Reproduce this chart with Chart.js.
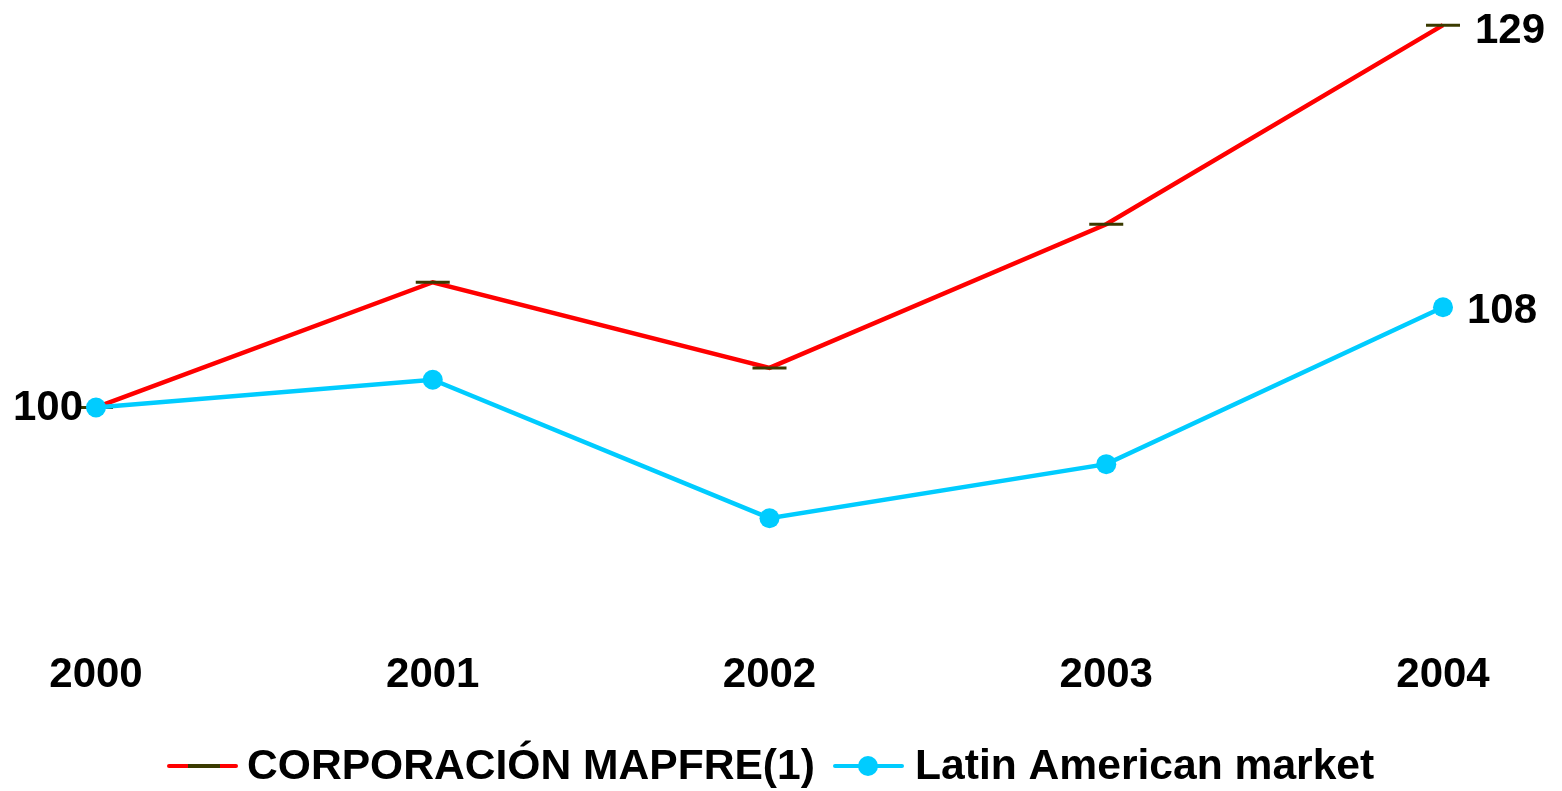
<!DOCTYPE html>
<html>
<head>
<meta charset="utf-8">
<script src="https://cdn.jsdelivr.net/npm/chart.js@4.4.0/dist/chart.umd.min.js"></script>
<style>
  html, body { margin: 0; padding: 0; background: #fff; }
  #wrap { width: 1562px; height: 791px; position: relative; }
</style>
</head>
<body>
<div id="wrap"><canvas id="chart" width="1562" height="791"></canvas></div>
<script>
const years = ["2000", "2001", "2002", "2003", "2004"];
const mapfreValues = [100, 109.5, 103, 113.9, 129];
const latamValues = [100, 102.1, 91.6, 95.7, 107.6];
const seriesNames = ["CORPORACIÓN MAPFRE(1)", "Latin American market"];

const FONT = "'Liberation Sans', Arial, sans-serif";

// end labels: first point of first series, last point of each series
const endLabels = {
  id: "endLabels",
  afterDatasetsDraw(chart) {
    const ctx = chart.ctx;
    const x = chart.scales.x, y = chart.scales.y;
    ctx.save();
    ctx.font = "bold 42px " + FONT;
    ctx.fillStyle = "#000";
    ctx.textBaseline = "middle";
    ctx.textAlign = "right";
    ctx.fillText(String(Math.round(mapfreValues[0])), x.getPixelForValue(0) - 13, y.getPixelForValue(mapfreValues[0]) + 1);
    ctx.textAlign = "left";
    const last = years.length - 1;
    ctx.fillText(String(Math.round(mapfreValues[last])), x.getPixelForValue(last) + 32, y.getPixelForValue(mapfreValues[last]) + 6);
    ctx.fillText(String(Math.round(latamValues[last])), x.getPixelForValue(last) + 24, y.getPixelForValue(latamValues[last]) + 4);
    ctx.restore();
  }
};

// legend drawn by hand: line with its marker on top
const bottomLegend = {
  id: "bottomLegend",
  afterDraw(chart) {
    const ctx = chart.ctx;
    const cy = 766;
    ctx.save();
    ctx.font = "bold 42.6px " + FONT;
    ctx.textBaseline = "middle";
    ctx.fillStyle = "#000";
    ctx.lineCap = "round";

    // red
    ctx.strokeStyle = "#ff0000";
    ctx.lineWidth = 4;
    ctx.beginPath(); ctx.moveTo(169, cy); ctx.lineTo(236, cy); ctx.stroke();
    ctx.strokeStyle = "#3a3a00";
    ctx.lineCap = "butt";
    ctx.lineWidth = 4;
    ctx.beginPath(); ctx.moveTo(188, cy); ctx.lineTo(220, cy); ctx.stroke();
    ctx.fillText(seriesNames[0], 247, cy + 1);

    // cyan
    ctx.lineCap = "round";
    ctx.strokeStyle = "#00ccff";
    ctx.lineWidth = 4;
    ctx.beginPath(); ctx.moveTo(835, cy); ctx.lineTo(902, cy); ctx.stroke();
    ctx.fillStyle = "#00ccff";
    ctx.beginPath(); ctx.arc(868, cy, 10, 0, Math.PI * 2); ctx.fill();
    ctx.fillStyle = "#000";
    ctx.fillText(seriesNames[1], 915, cy + 1);
    ctx.restore();
  }
};

new Chart(document.getElementById("chart"), {
  type: "line",
  data: {
    labels: years,
    datasets: [
      {
        label: seriesNames[0],
        data: mapfreValues,
        borderColor: "#ff0000",
        borderWidth: 4.5,
        pointStyle: "line",
        pointRadius: 17,
        pointBorderWidth: 3,
        pointBorderColor: "#3a3a00",
        pointBackgroundColor: "#3a3a00",
        tension: 0,
        order: 1
      },
      {
        label: seriesNames[1],
        data: latamValues,
        borderColor: "#00ccff",
        borderWidth: 4.5,
        pointStyle: "circle",
        pointRadius: 10,
        pointBorderWidth: 0,
        pointBackgroundColor: "#00ccff",
        tension: 0,
        order: 0
      }
    ]
  },
  options: {
    responsive: false,
    animation: false,
    layout: { autoPadding: false, padding: { left: 96, right: 119, top: 12, bottom: 70 } },
    plugins: { legend: { display: false }, tooltip: { enabled: false } },
    scales: {
      x: {
        offset: false,
        grid: { display: false },
        border: { display: false },
        ticks: { color: "#000", font: { family: FONT, size: 42, weight: "bold" }, padding: 20, maxRotation: 0 }
      },
      y: {
        display: false,
        min: 83.68,
        max: 130
      }
    }
  },
  plugins: [endLabels, bottomLegend]
});
</script>
</body>
</html>
